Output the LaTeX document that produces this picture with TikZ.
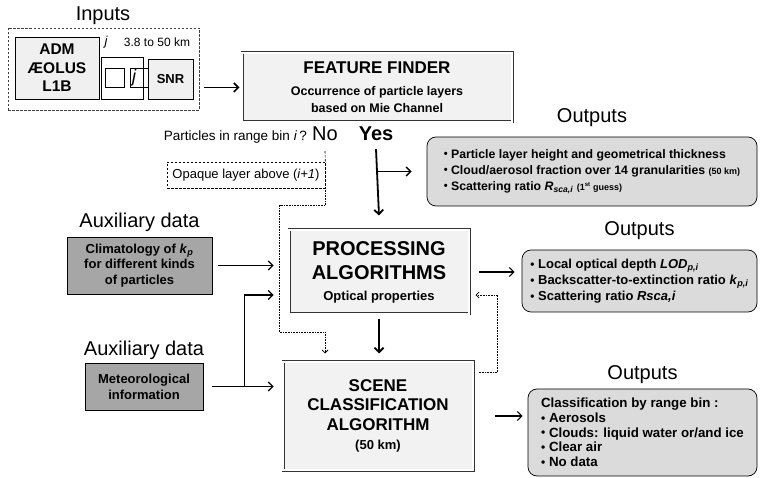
\documentclass[tikz,border=0pt]{standalone}
\usepackage{fontspec}
\setmainfont{Liberation Sans}
\usetikzlibrary{positioning,calc,arrows.meta}

% small bullet for the output lists
\newcommand{\bul}{\raisebox{0.3pt}{\scalebox{0.9}{\textbullet}}\ }

\begin{document}
\begin{tikzpicture}[x=1pt, y=-1pt,
    lbl/.style={inner sep=0pt, font=\fontsize{20}{24}\selectfont},
    algo/.style={draw=black!80, line width=3pt, fill=black!5, postaction={draw=white, line width=1.4pt}, align=center, inner sep=0pt},
    outbox/.style={draw, line width=0.7pt, rounded corners=9pt, fill=black!14, align=left, inner sep=0pt},
    auxbox/.style={draw, line width=0.7pt, fill=black!35, align=center, inner sep=0pt, font=\bfseries\fontsize{13}{15.5}\selectfont},
    inbox/.style={draw, line width=0.6pt, fill=black!6, align=center, inner sep=0pt, font=\bfseries},
    dashline/.style={line width=0.6pt, dash pattern=on 2.5pt off 1.5pt},
    arr/.style={-{Straight Barb[length=4.5pt,width=9pt]}, line width=1.1pt},
    dotarr/.style={-{Straight Barb[length=3pt,width=6pt]}, line width=0.8pt, dash pattern=on 0.8pt off 0.8pt}]
    \useasboundingbox (0,0) rectangle (761,478);

    % Inputs
    \node[lbl] (inlbl) at (103,16) {Inputs};
    \node[draw=black!75, dashline, minimum width=191, minimum height=82] (frame) at (103.5,69) {};
    \node[inbox, minimum width=84, minimum height=62, font=\bfseries\fontsize{15.5}{18.5}\selectfont] (adm) at (57,68) {ADM\\ÆOLUS\\L1B};
    \node[font=\itshape\fontsize{13}{15}\selectfont] (jlbl) at (106,42) {j};
    \node[font=\fontsize{12}{14}\selectfont] (range) at (157,42) {3.8 to 50 km};
    \node[draw, line width=0.6pt, minimum size=42] (bins) at (122,78) {};
    \node[draw, line width=0.6pt, minimum size=19] (cell) at (114.5,77.5) {};
    \node[draw, line width=0.6pt, minimum width=18, minimum height=19] (jcell) at (139,77.5) {};
    \node[font=\itshape\fontsize{18}{20}\selectfont, inner sep=0pt] (jtxt) at (134,78) {j};
    \node[inbox, minimum width=45, minimum height=40, font=\bfseries\fontsize{13}{15}\selectfont] (snr) at (170.5,79) {SNR};

    % Feature finder
    \node[algo, minimum width=270, minimum height=69, font=\bfseries\fontsize{12.5}{17}\selectfont] (ff) at (377,87.5)
        {{\fontsize{17}{20}\selectfont FEATURE FINDER}\\[5pt]
         Occurrence of particle layers\\based on Mie Channel};
    \draw[arr, line width=1.6pt, shorten <=5pt, shorten >=1pt] (frame.east |- ff.west) -- (ff.west);

    % Test on the range bin
    \node[lbl] (no) at (325,134) {No};
    \node[lbl, font=\bfseries\fontsize{20}{24}\selectfont] (yes) at (376,134) {Yes};
    \node[left=5pt of no.base west, anchor=base east, inner sep=0pt, font=\fontsize{13.5}{16}\selectfont] (question) {Particles in range bin \textit{i}\,?};
    \node[draw, dashline, minimum width=158, minimum height=26, inner sep=0pt, font=\fontsize{13}{15}\selectfont] (opaque) at (246,175) {Opaque layer above (\textit{i+1})};

    % Outputs of the feature finder
    \node[outbox, minimum width=330, minimum height=69, font=\bfseries\fontsize{12.3}{16}\selectfont] (out1) at (592,171.5)
        {\bul Particle layer height and geometrical thickness\\
         \bul Cloud/aerosol fraction over 14 granularities {\fontsize{9}{10}\selectfont(50 km)}\\
         \bul Scattering ratio \textit{R}\textsubscript{\textit{sca,i}} {\fontsize{9}{10}\selectfont(1\textsuperscript{st} guess)}};
    \node[lbl, above=10pt of out1] (out1lbl) {Outputs};

    % Processing algorithms
    \node[algo, minimum width=180, minimum height=84, font=\bfseries\fontsize{20}{24}\selectfont] (proc) at (379,272)
        {PROCESSING\\ALGORITHMS\\[-3pt]
         {\fontsize{13}{15}\selectfont Optical properties}};
    \node[auxbox, minimum width=145, minimum height=57] (clim) at (139.5,265.5)
        {Climatology of \textit{k}\textsubscript{\textit{p}}\\for different kinds\\of particles};
    \node[lbl, above=5pt of clim] (aux1lbl) {Auxiliary data};
    \node[outbox, minimum width=235, minimum height=62, font=\bfseries\fontsize{13}{16}\selectfont] (out2) at (639.5,281)
        {\bul Local optical depth \textit{LOD}\textsubscript{\textit{p,i}}\\
         \bul Backscatter-to-extinction ratio \textit{k}\textsubscript{\textit{p,i}}\\
         \bul Scattering ratio \textit{Rsca,i}};
    \node[lbl, above=10pt of out2] (out2lbl) {Outputs};

    % Scene classification
    \node[algo, minimum width=190, minimum height=108, font=\bfseries\fontsize{17}{19.5}\selectfont] (scene) at (378,416)
        {SCENE\\CLASSIFICATION\\ALGORITHM\\
         {\fontsize{13}{15}\selectfont (50 km)}};
    \node[auxbox, minimum width=118, minimum height=47, font=\bfseries\fontsize{13}{16}\selectfont] (meteo) at (144,386.5)
        {Meteorological\\information};
    \node[lbl, above=3pt of meteo] (aux2lbl) {Auxiliary data};
    \node[outbox, minimum width=229, minimum height=87, font=\bfseries\fontsize{13.3}{14.7}\selectfont] (out3) at (642.5,432.5)
        {Classification by range bin :\\
         \bul Aerosols\\
         \bul Clouds: liquid water or/and ice\\
         \bul Clear air\\
         \bul No data};
    \node[lbl, above=5pt of out3] (out3lbl) {Outputs};

    % Yes branch
    \draw[arr, line width=1.8pt] ($(yes.south)+(0,8)$) -- ($(proc.north)+(0,-13)$);
    \draw[arr, line width=1.5pt, shorten >=15pt] (yes.south |- out1.west) -- (out1.west);

    % No branch, with the opaque layer test
    \draw[dashline] ($(no.south)+(0,10)$) -- (opaque.north east);
    \draw[dotarr] (opaque.south east) -- ++(0,17) -| ($(proc.west)+(-8,0)$) |- ($(scene.north)+(-53,-28)$) -- ($(scene.north)+(-53,-7)$);

    % Auxiliary data into the algorithms
    \draw[arr, shorten <=6pt, shorten >=14pt] (clim.east) -- (proc.west |- clim.east);
    \draw[arr, shorten <=9pt, shorten >=8pt] (meteo.east) -- (scene.west |- meteo.east);
    \draw[arr, shorten >=14pt] ($(meteo.east)+(41,0)$) |- ($(proc.west)+(0,23)$);

    % Processing -> scene and outputs
    \draw[arr, line width=1.8pt, shorten <=4pt, shorten >=7pt] (proc.south) -- (proc.south |- scene.north);
    \draw[arr, shorten <=8pt, shorten >=7pt] (proc.east) -- (out2.west |- proc.east);
    \draw[dotarr] ($(scene.north east)+(4,12)$) -| ($(proc.east)+(27,23)$) -- ($(proc.east)+(5,23)$);
    \draw[arr, shorten <=20pt, shorten >=5pt] (scene.east) -- (out3.west |- scene.east);
\end{tikzpicture}
\end{document}
